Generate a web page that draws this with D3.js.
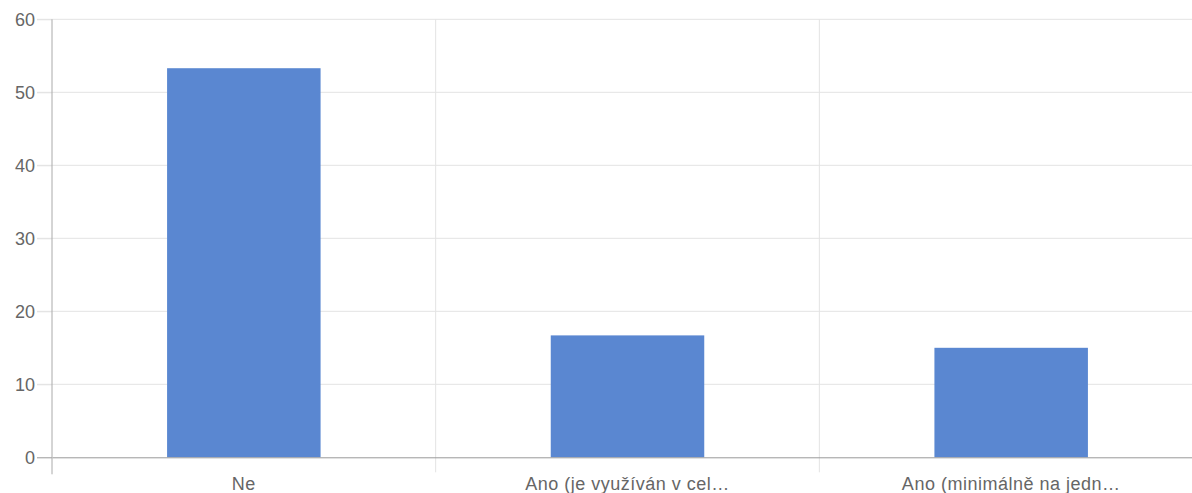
<!DOCTYPE html>
<html>
<head>
<meta charset="utf-8">
<script src="https://cdn.jsdelivr.net/npm/d3@7"></script>
<style>
  html, body { margin: 0; padding: 0; background: #fff; }
  text { font-family: "Liberation Sans", Arial, sans-serif; fill: #666; }
</style>
</head>
<body>
<svg id="bar"></svg>
<script>
// chart data
const categories = ["Ne", "Ano (je využíván v cel…", "Ano (minimálně na jedn…"];
const values = [53.3, 16.7, 15];
const yTicks = [0, 10, 20, 30, 40, 50, 60];

const width = 1192;
const height = 493;
const padding = { top: 19.3, right: -11, bottom: 35.7, left: 52 };
const fontStack = "'Liberation Sans', Arial, sans-serif";

const svg = d3.select("#bar")
  .attr("width", width)
  .attr("height", height);

const xScale = d3.scaleBand()
  .domain(categories)
  .range([padding.left, width - padding.right])
  .paddingInner(0)
  .paddingOuter(0);

const yScale = d3.scaleLinear()
  .domain([0, 60])
  .range([height - padding.bottom, padding.top]);

const barWidth = 153.5;

// horizontal grid lines
svg.append("g")
  .selectAll("line")
  .data(yTicks.filter(d => d !== 0))
  .join("line")
    .attr("x1", 37)
    .attr("x2", width)
    .attr("y1", d => yScale(d))
    .attr("y2", d => yScale(d))
    .attr("stroke", "#e3e3e3")
    .attr("stroke-width", 1);

// vertical grid lines at band boundaries
svg.append("g")
  .selectAll("line")
  .data(categories.slice(1))
  .join("line")
    .attr("x1", d => xScale(d))
    .attr("x2", d => xScale(d))
    .attr("y1", padding.top)
    .attr("y2", height - padding.bottom + 15)
    .attr("stroke", "#e3e3e3")
    .attr("stroke-width", 1);

// bars
svg.append("g")
  .selectAll("rect")
  .data(values)
  .join("rect")
    .attr("x", (d, i) => xScale(categories[i]) + xScale.bandwidth() / 2 - barWidth / 2)
    .attr("width", barWidth)
    .attr("y", d => yScale(d))
    .attr("height", d => yScale(0) - yScale(d))
    .attr("fill", "#5a87d1");

// y axis
const yAxis = d3.axisLeft(yScale)
  .tickValues(yTicks)
  .tickSize(15)
  .tickPadding(2)
  .tickFormat(d3.format("d"));

svg.append("g")
  .classed("y-axis", true)
  .attr("transform", `translate(${padding.left}, 0)`)
  .call(yAxis)
  .call(g => g.select(".domain").remove())
  .call(g => g.selectAll(".tick line").attr("stroke", d => d === 0 ? "#999" : "#e3e3e3"))
  .call(g => g.selectAll(".tick text")
    .attr("font-size", 18)
    .attr("fill", "#666")
    .style("font-family", fontStack));

// left axis line
svg.append("line")
  .attr("x1", padding.left)
  .attr("x2", padding.left)
  .attr("y1", padding.top)
  .attr("y2", height - padding.bottom + 17)
  .attr("stroke", "#aaa");

// x axis
const xAxis = d3.axisBottom(xScale)
  .tickSize(0)
  .tickPadding(20);

svg.append("g")
  .classed("x-axis", true)
  .attr("transform", `translate(0, ${height - padding.bottom})`)
  .call(xAxis)
  .call(g => g.select(".domain").attr("stroke", "#999"))
  .call(g => g.selectAll(".tick text")
    .attr("font-size", 18)
    .attr("fill", "#666")
    .style("letter-spacing", "0.5px")
    .style("font-family", fontStack));
</script>
</body>
</html>
